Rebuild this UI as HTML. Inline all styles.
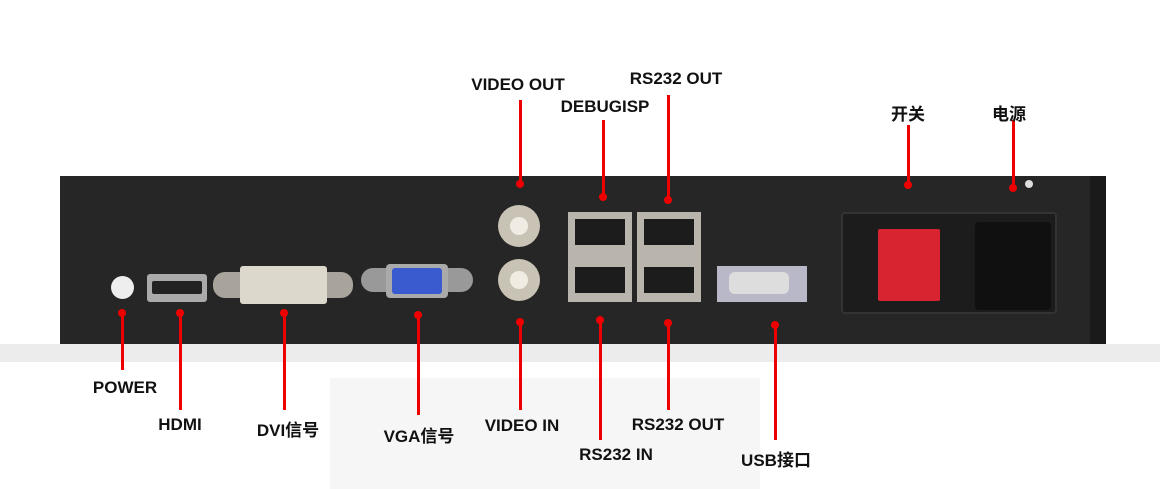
<!DOCTYPE html>
<html><head><meta charset="utf-8"><style>
body{margin:0;width:1160px;height:489px;background:#fff;position:relative;overflow:hidden;font-family:"Liberation Sans Narrow","Liberation Sans","Noto Sans CJK SC",sans-serif;}
.a{position:absolute}
.l{position:absolute;font-size:17px;font-weight:bold;color:#111;white-space:nowrap;transform:translateX(-50%)}
.v{position:absolute;width:3px;background:#e00;margin-left:-1px}
.d{position:absolute;width:8px;height:8px;border-radius:50%;background:#e00;margin:-4px 0 0 -4px}
.rj{position:absolute;background:#b9b5ac;}
.rj i{position:absolute;left:7px;right:7px;height:26px;background:#1c1c1c}
</style></head><body>
<div class="a" style="left:0;top:344px;width:1160px;height:18px;background:#ececec"></div>
<div class="a" style="left:330px;top:378px;width:430px;height:111px;background:#f6f6f6"></div>
<div class="a" style="left:60px;top:176px;width:1046px;height:168px;background:#262626"></div>
<div class="a" style="left:1090px;top:176px;width:16px;height:168px;background:#1a1a1a"></div>
<!-- power -->
<div class="a" style="left:111px;top:276px;width:23px;height:23px;border-radius:50%;background:#eee"></div>
<!-- hdmi -->
<div class="a" style="left:147px;top:274px;width:60px;height:28px;background:#aaa;border-radius:3px"></div>
<div class="a" style="left:152px;top:281px;width:50px;height:13px;background:#222;border-radius:2px"></div>
<!-- dvi -->
<div class="a" style="left:213px;top:272px;width:140px;height:26px;background:#a8a49c;border-radius:12px"></div>
<div class="a" style="left:240px;top:266px;width:87px;height:38px;background:#ddd8cc;border-radius:3px"></div>
<!-- vga -->
<div class="a" style="left:361px;top:268px;width:112px;height:24px;background:#999;border-radius:12px"></div>
<div class="a" style="left:386px;top:264px;width:62px;height:34px;background:#aaa;border-radius:4px"></div>
<div class="a" style="left:392px;top:268px;width:50px;height:26px;background:#3a5bd0;border-radius:3px"></div>
<!-- bnc -->
<div class="a" style="left:498px;top:205px;width:42px;height:42px;border-radius:50%;background:#c9c3b5"></div>
<div class="a" style="left:510px;top:217px;width:18px;height:18px;border-radius:50%;background:#f0ece4"></div>
<div class="a" style="left:498px;top:259px;width:42px;height:42px;border-radius:50%;background:#c9c3b5"></div>
<div class="a" style="left:510px;top:271px;width:18px;height:18px;border-radius:50%;background:#f0ece4"></div>
<!-- rj45 -->
<div class="rj" style="left:568px;top:212px;width:64px;height:90px"><i style="top:7px"></i><i style="top:55px"></i></div>
<div class="rj" style="left:637px;top:212px;width:64px;height:90px"><i style="top:7px"></i><i style="top:55px"></i></div>
<!-- usb -->
<div class="a" style="left:717px;top:266px;width:90px;height:36px;background:#b8b8c8"></div>
<div class="a" style="left:729px;top:272px;width:60px;height:22px;background:#ddd;border-radius:6px"></div>
<!-- switch/power -->
<div class="a" style="left:841px;top:212px;width:212px;height:98px;background:#1c1c1c;border:2px solid #333;border-radius:4px"></div>
<div class="a" style="left:878px;top:229px;width:62px;height:72px;background:#d82430;border-radius:2px"></div>
<div class="a" style="left:975px;top:222px;width:76px;height:88px;background:#101010;border-radius:4px"></div>
<div class="a" style="left:1025px;top:180px;width:8px;height:8px;border-radius:50%;background:#ddd"></div>

<!-- connectors -->
<div class="v" style="left:122px;top:313px;height:57px"></div><div class="d" style="left:122px;top:313px"></div>
<div class="v" style="left:180px;top:313px;height:97px"></div><div class="d" style="left:180px;top:313px"></div>
<div class="v" style="left:284px;top:313px;height:97px"></div><div class="d" style="left:284px;top:313px"></div>
<div class="v" style="left:418px;top:315px;height:100px"></div><div class="d" style="left:418px;top:315px"></div>
<div class="v" style="left:520px;top:322px;height:88px"></div><div class="d" style="left:520px;top:322px"></div>
<div class="v" style="left:520px;top:100px;height:84px"></div><div class="d" style="left:520px;top:184px"></div>
<div class="v" style="left:603px;top:120px;height:77px"></div><div class="d" style="left:603px;top:197px"></div>
<div class="v" style="left:668px;top:95px;height:105px"></div><div class="d" style="left:668px;top:200px"></div>
<div class="v" style="left:600px;top:320px;height:120px"></div><div class="d" style="left:600px;top:320px"></div>
<div class="v" style="left:668px;top:323px;height:87px"></div><div class="d" style="left:668px;top:323px"></div>
<div class="v" style="left:775px;top:325px;height:115px"></div><div class="d" style="left:775px;top:325px"></div>
<div class="v" style="left:908px;top:125px;height:60px"></div><div class="d" style="left:908px;top:185px"></div>
<div class="v" style="left:1013px;top:120px;height:68px"></div><div class="d" style="left:1013px;top:188px"></div>

<!-- labels -->
<div class="l" style="left:125px;top:378px">POWER</div>
<div class="l" style="left:180px;top:415px">HDMI</div>
<div class="l" style="left:288px;top:416px">DVI信号</div>
<div class="l" style="left:419px;top:422px">VGA信号</div>
<div class="l" style="left:522px;top:416px">VIDEO IN</div>
<div class="l" style="left:518px;top:75px">VIDEO OUT</div>
<div class="l" style="left:605px;top:97px">DEBUGISP</div>
<div class="l" style="left:676px;top:69px">RS232 OUT</div>
<div class="l" style="left:616px;top:445px">RS232 IN</div>
<div class="l" style="left:678px;top:415px">RS232 OUT</div>
<div class="l" style="left:776px;top:446px">USB接口</div>
<div class="l" style="left:908px;top:100px">开关</div>
<div class="l" style="left:1009px;top:100px">电源</div>
</body></html>
